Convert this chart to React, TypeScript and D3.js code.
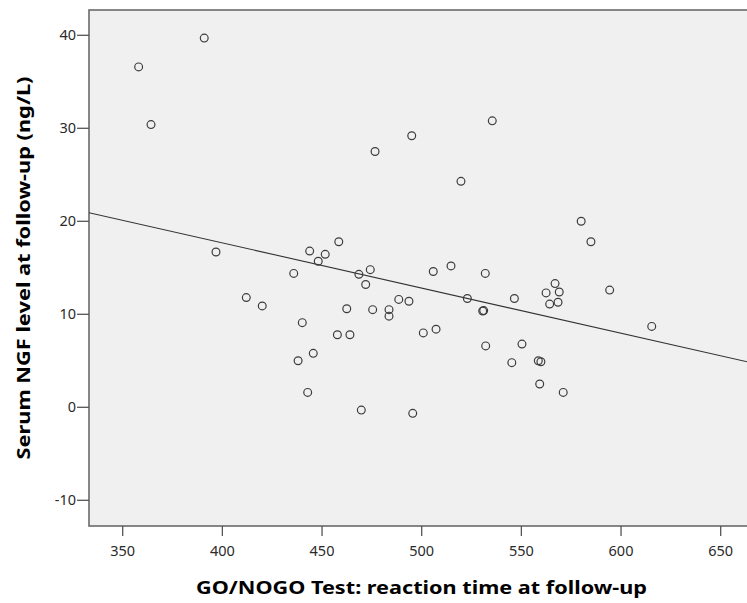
import React, { useEffect } from "react";
import * as d3 from "d3";

// Reaction time (ms) on the GO/NOGO test at follow-up
const reactionTime = [
  358.0, 364.2, 390.9, 396.8, 412.0, 420.0, 435.8, 438.0, 440.1, 442.8,
  443.8, 445.6, 448.1, 451.6, 457.7, 458.4, 462.4, 464.0, 468.5, 469.7,
  471.9, 474.2, 475.4, 476.6, 483.6, 483.6, 488.5, 493.6, 495.0, 495.5,
  500.8, 505.8, 507.2, 514.7, 519.7, 522.9, 530.6, 531.1, 531.9, 532.1,
  535.4, 545.2, 546.5, 550.3, 558.5, 559.2, 559.8, 562.4, 564.2, 566.9,
  568.4, 569.0, 571.0, 580.0, 584.9, 594.3, 615.4,
];

// Serum NGF level (ng/L) at follow-up, same order as reactionTime
const ngfLevel = [
  36.6, 30.4, 39.7, 16.7, 11.8, 10.9, 14.4, 5.0, 9.1, 1.6,
  16.8, 5.8, 15.7, 16.45, 7.8, 17.8, 10.6, 7.8, 14.3, -0.3,
  13.2, 14.8, 10.5, 27.5, 10.5, 9.8, 11.6, 11.4, 29.2, -0.65,
  8.0, 14.6, 8.4, 15.2, 24.3, 11.7, 10.35, 10.4, 14.4, 6.6,
  30.8, 4.8, 11.7, 6.8, 5.0, 2.5, 4.9, 12.3, 11.1, 13.3,
  11.3, 12.4, 1.6, 20.0, 17.8, 12.6, 8.7,
];

// Linear fit: NGF = intercept + slope * reaction time
const fitIntercept = 37.1;
const fitSlope = -0.04856;

const xTicks = [350, 400, 450, 500, 550, 600, 650];
const yTicks = [-10, 0, 10, 20, 30, 40];

const xTitle = "GO/NOGO Test: reaction time at follow-up";
const yTitle = "Serum NGF level at follow-up (ng/L)";

const W = 747;
const H = 603;
const frame = { left: 89, right: 754, top: 10, bottom: 526 };

export default function App() {
  useEffect(() => {
    document.body.style.margin = "0";
  }, []);

  const x = d3.scaleLinear().domain([350, 650]).range([122.7, 720.7]);
  const y = d3.scaleLinear().domain([-10, 40]).range([500.3, 35.3]);

  const points = reactionTime.map((rt, i) => ({ rt, ngf: ngfLevel[i] }));

  const x0 = x.invert(frame.left);
  const x1 = x.invert(frame.right);
  const fitLine = d3
    .line<number>()
    .x((v) => x(v))
    .y((v) => y(fitIntercept + fitSlope * v))([x0, x1]);

  const font = "'Noto Sans', 'Open Sans', sans-serif";
  const cx = (frame.left + frame.right) / 2;
  const cy = (frame.top + frame.bottom) / 2;

  return (
    <svg width={W} height={H} style={{ display: "block" }} fontFamily={font}>
      <rect x={0} y={0} width={W} height={H} fill="#ffffff" />
      <defs>
        <clipPath id="plot-clip">
          <rect
            x={frame.left}
            y={frame.top}
            width={frame.right - frame.left}
            height={frame.bottom - frame.top}
          />
        </clipPath>
      </defs>
      <rect
        x={frame.left}
        y={frame.top}
        width={frame.right - frame.left}
        height={frame.bottom - frame.top}
        fill="#f0f0f0"
        stroke="#6a6a6a"
        strokeWidth={1.6}
      />
      <g clipPath="url(#plot-clip)">
        <path d={fitLine ?? ""} fill="none" stroke="#333" strokeWidth={1.1} />
        {points.map((p, i) => (
          <circle
            key={i}
            cx={x(p.rt)}
            cy={y(p.ngf)}
            r={3.9}
            fill="none"
            stroke="#3c3c3c"
            strokeWidth={1.2}
          />
        ))}
      </g>

      {/* y axis ticks */}
      {yTicks.map((t) => (
        <g key={t}>
          <line
            x1={frame.left - 12}
            x2={frame.left}
            y1={y(t)}
            y2={y(t)}
            stroke="#555"
            strokeWidth={1.3}
          />
          <text
            x={frame.left - 13}
            y={y(t)}
            dy="0.35em"
            textAnchor="end"
            fontSize={14.5}
            fill="#2a2a2a"
          >
            {t}
          </text>
        </g>
      ))}

      {/* x axis ticks */}
      {xTicks.map((t) => (
        <g key={t}>
          <line
            x1={x(t)}
            x2={x(t)}
            y1={frame.bottom}
            y2={frame.bottom + 10}
            stroke="#555"
            strokeWidth={1.3}
          />
          <text
            x={x(t)}
            y={frame.bottom + 30}
            textAnchor="middle"
            fontSize={14.5}
            fill="#2a2a2a"
          >
            {t}
          </text>
        </g>
      ))}

      <text
        x={cx}
        y={594}
        textAnchor="middle"
        fontSize={17.5}
        fontWeight="bold"
        fill="#000"
        textLength={451}
        lengthAdjust="spacingAndGlyphs"
      >
        {xTitle}
      </text>
      <text
        transform={`translate(30, ${cy}) rotate(-90)`}
        textAnchor="middle"
        fontSize={17.5}
        fontWeight="bold"
        fill="#000"
        textLength={383}
        lengthAdjust="spacingAndGlyphs"
      >
        {yTitle}
      </text>
    </svg>
  );
}
